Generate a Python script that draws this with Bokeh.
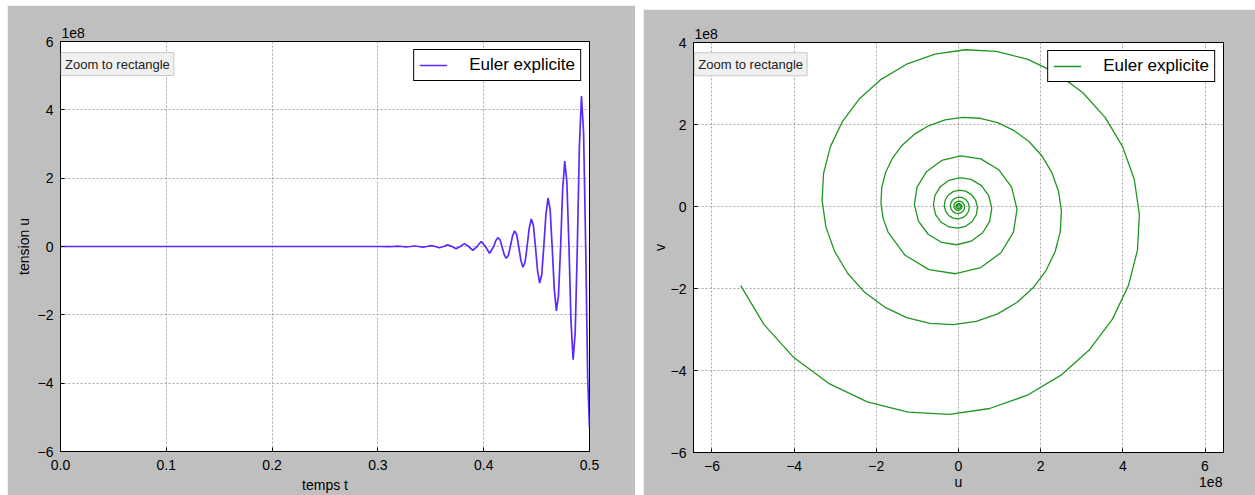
from bokeh.plotting import figure
from bokeh.models import (Range1d, FixedTicker, Label, Legend, Spacer, LinearAxis,
                          CustomJSTickFormatter, ColumnDataSource)
from bokeh.layouts import row, column
from bokeh.embed import file_html
from bokeh.resources import INLINE

# ---------------- data (values in units of 1e8) ----------------
# Left panel: tension u versus temps t (Euler explicite)
time_t = [0.0, 0.300, 0.3107, 0.3147, 0.3186, 0.3226, 0.3265, 0.3305, 0.3344, 0.3384,
          0.3423, 0.3463, 0.3502, 0.3542, 0.3581, 0.3621, 0.3660, 0.3700, 0.3739, 0.3779,
          0.3818, 0.3858, 0.3897, 0.3937, 0.3976, 0.4016, 0.4055, 0.4095,
          0.4114, 0.4134, 0.4154, 0.4173, 0.4193, 0.4213, 0.4233, 0.4252, 0.4272, 0.4292,
          0.4312, 0.4331, 0.4351, 0.4371, 0.4391, 0.4410, 0.4430, 0.4450, 0.4470, 0.4489,
          0.4509, 0.4529, 0.4549, 0.4568, 0.4588, 0.4608, 0.4628, 0.4647, 0.4667, 0.4687,
          0.4707, 0.4727, 0.4746, 0.4766, 0.4786, 0.4806, 0.4825, 0.4845, 0.4865, 0.4885,
          0.4904, 0.4924, 0.4944, 0.4964, 0.4983, 0.5000]
tension_u = [0.0, 0.0, -0.006, 0.0, 0.009, 0.0, -0.012, 0.0, 0.015, 0.0,
             -0.020, 0.0, 0.027, 0.0, -0.036, 0.0, 0.048, 0.0, -0.063, 0.0,
             0.084, 0.0, -0.111, 0.0, 0.148, 0.0, -0.196, 0.0,
             0.171, 0.260, 0.198, 0.0, -0.227, -0.345, -0.262, 0.0, 0.302, 0.458,
             0.348, 0.0, -0.400, -0.607, -0.461, 0.0, 0.531, 0.806, 0.612, 0.0,
             -0.704, -1.069, -0.812, 0.0, 0.935, 1.419, 1.077, 0.0, -1.240, -1.883,
             -1.429, 0.0, 1.646, 2.499, 1.896, 0.0, -2.184, -3.316, -2.516, 0.0,
             2.899, 4.400, 3.339, 0.0, -3.847, -5.300]

# Right panel: phase portrait (u, v), from the centre outwards
phase_u = [0.0, -0.033, -0.034, -0.014, 0.018, 0.044, 0.045, 0.018, -0.024,
           -0.058, -0.060, -0.024, 0.032, 0.077, 0.080, 0.032, -0.043,
           -0.102, -0.112, -0.106, -0.082, -0.043, 0.006, 0.057, 0.102, 0.135, 0.149,
           0.140, 0.108, 0.057, -0.007, -0.075, -0.136,
           -0.179, -0.198, -0.186, -0.143, -0.075, 0.010, 0.100, 0.180, 0.238, 0.262,
           0.246, 0.190, 0.100, -0.013, -0.132, -0.239,
           -0.315, -0.347, -0.326, -0.252, -0.132, 0.017, 0.175, 0.317, 0.418, 0.461,
           0.433, 0.334, 0.175, -0.023, -0.232, -0.420,
           -0.555, -0.611, -0.574, -0.443, -0.232, 0.031, 0.308, 0.557, 0.735, 0.810,
           0.761, 0.588, 0.308, -0.041, -0.409, -0.739,
           -0.975, -1.074, -1.009, -0.779, -0.409, 0.054, 0.542, 0.979, 1.293, 1.424,
           1.338, 1.033, 0.542, -0.071, -0.718, -1.299,
           -1.715, -1.836, -1.888, -1.869, -1.775, -1.607, -1.370, -1.071, -0.718, -0.325,
           0.095, 0.527, 0.953, 1.357, 1.722, 2.032, 2.273, 2.434, 2.504, 2.478,
           2.353, 2.131, 1.817, 1.420, 0.953, 0.431, -0.126, -0.698, -1.263, -1.799,
           -2.284, -2.694,
           -3.015, -3.227, -3.320, -3.285, -3.120, -2.826, -2.409, -1.883, -1.263, -0.572,
           0.167, 0.926, 1.675, 2.385, 3.027, 3.573, 3.997, 4.279, 4.402, 4.356,
           4.136, 3.747, 3.194, 2.496, 1.675, 0.758, -0.221, -1.227, -2.221, -3.163,
           -4.015, -4.737, -5.300]
phase_v = [0.0, -0.012, 0.016, 0.038, 0.039, 0.016, -0.021, -0.050, -0.052,
           -0.021, 0.028, 0.067, 0.069, 0.028, -0.037, -0.089, -0.092,
           -0.037, 0.005, 0.049, 0.089, 0.117, 0.129, 0.122, 0.094, 0.049, -0.006,
           -0.065, -0.118, -0.156, -0.172, -0.161, -0.125,
           -0.065, 0.009, 0.087, 0.156, 0.207, 0.228, 0.214, 0.165, 0.087, -0.011,
           -0.115, -0.207, -0.274, -0.302, -0.284, -0.219,
           -0.115, 0.015, 0.152, 0.275, 0.363, 0.400, 0.376, 0.290, 0.152, -0.020,
           -0.202, -0.365, -0.482, -0.530, -0.499, -0.385,
           -0.202, 0.027, 0.268, 0.484, 0.639, 0.703, 0.661, 0.510, 0.268, -0.035,
           -0.355, -0.641, -0.847, -0.933, -0.877, -0.677,
           -0.355, 0.047, 0.471, 0.850, 1.123, 1.237, 1.162, 0.897, 0.471, -0.062,
           -0.624, -1.128, -1.489, -1.640, -1.541, -1.190,
           -0.624, -0.283, 0.082, 0.457, 0.828, 1.179, 1.495, 1.764, 1.974, 2.114,
           2.175, 2.152, 2.044, 1.850, 1.578, 1.233, 0.828, 0.374, -0.109, -0.606,
           -1.097, -1.563, -1.983, -2.340, -2.618, -2.802, -2.883, -2.853, -2.710, -2.453,
           -2.093, -1.635,
           -1.097, -0.497, 0.145, 0.804, 1.455, 2.072, 2.629, 3.102, 3.471, 3.716,
           3.823, 3.783, 3.593, 3.253, 2.774, 2.168, 1.455, 0.658, -0.192, -1.066,
           -1.929, -2.747, -3.486, -4.114, -4.603, -4.927, -5.069, -5.016, -4.764, -4.313,
           -3.679, -2.875, -1.929]

left_x_ticks = [0.0, 0.1, 0.2, 0.3, 0.4, 0.5]
left_y_ticks = [-6, -4, -2, 0, 2, 4, 6]
right_x_ticks = [-6, -4, -2, 0, 2, 4, 6]
right_y_ticks = [-6, -4, -2, 0, 2, 4]
series_name = "Euler explicite"
scale_text = "1e8"
tooltip_text = "Zoom to rectangle"

# ---------------- styling helpers ----------------
BG = "#bfbfbf"
FONT = "Liberation Sans"
INT_FMT = "return tick < 0 ? '\\u2212' + Math.abs(tick).toFixed(0) : tick.toFixed(0);"


def style(p, xt, yt, xfmt, yfmt, xlabel, ylabel, ylab_standoff):
    p.background_fill_color = "white"
    p.border_fill_color = BG
    p.outline_line_color = "black"
    p.outline_line_width = 1
    p.xaxis.ticker = FixedTicker(ticks=xt)
    p.yaxis.ticker = FixedTicker(ticks=yt)
    p.xaxis.formatter = CustomJSTickFormatter(code=xfmt)
    p.yaxis.formatter = CustomJSTickFormatter(code=yfmt)
    if xlabel:
        p.xaxis.axis_label = xlabel
    p.yaxis.axis_label = ylabel
    for ax in p.xaxis + p.yaxis:
        ax.major_tick_in = 4
        ax.major_tick_out = 0
        ax.minor_tick_line_color = None
        ax.axis_line_color = "black"
        ax.major_tick_line_color = "black"
        ax.major_label_text_font = FONT
        ax.major_label_text_font_size = "14px"
        ax.major_label_text_color = "black"
        ax.axis_label_text_font = FONT
        ax.axis_label_text_font_size = "14px"
        ax.axis_label_text_font_style = "normal"
        ax.axis_label_text_color = "black"
    p.xaxis.major_label_standoff = 8
    p.xaxis.axis_label_standoff = 4
    p.yaxis.major_label_standoff = 7
    p.yaxis.axis_label_standoff = ylab_standoff
    for g in (p.xgrid, p.ygrid):
        g.grid_line_color = "#a6a6a6"
        g.grid_line_dash = "2 2"
        g.grid_line_width = 1
    # "1e8" multiplier above the top-left corner of the frame
    p.title.text = scale_text
    p.title.align = "left"
    p.title.text_font = FONT
    p.title.text_font_size = "14px"
    p.title.text_font_style = "normal"
    p.title.text_color = "black"
    p.title.standoff = 7
    p.title.offset = 1


def add_legend(p, r):
    lg = Legend(items=[(series_name, [r])], location="top_right", margin=8, padding=5,
                glyph_width=28, glyph_height=20, label_standoff=22, spacing=0,
                border_line_color="black", border_line_alpha=1.0, border_line_width=1,
                background_fill_color="white", background_fill_alpha=1.0,
                label_text_font=FONT, label_text_font_size="17px", label_text_color="black")
    p.add_layout(lg)


def zoom_tip(x, y):
    return Label(x=x, y=y, text=tooltip_text, text_align="left", level="overlay",
                 text_baseline="middle", text_font=FONT, text_font_size="13px",
                 text_color="#222222", background_fill_color="#f0f0f0",
                 border_line_color="#c8c8c8", padding=4)


# ---------------- left figure ----------------
p1 = figure(width=628, height=490, x_range=Range1d(0.0, 0.5), y_range=Range1d(-6, 6),
            output_backend="svg", toolbar_location=None,
            min_border_left=53, min_border_right=46, min_border_top=36, min_border_bottom=44)
style(p1, left_x_ticks, left_y_ticks, "return tick.toFixed(1);", INT_FMT,
      "temps t", "tension u", 3)
src1 = ColumnDataSource(dict(t=time_t, u=tension_u))
r1 = p1.line("t", "u", source=src1, line_color="#5a2bff", line_width=1.7)
add_legend(p1, r1)
p1.add_layout(zoom_tip(0.0005, 5.34))

# ---------------- right figure ----------------
p2 = figure(width=612, height=486, x_range=Range1d(-6.45, 6.45), y_range=Range1d(-6, 4),
            output_backend="svg", toolbar_location=None,
            min_border_left=50, min_border_right=32, min_border_top=33, min_border_bottom=43)
style(p2, right_x_ticks, right_y_ticks, INT_FMT, INT_FMT, None, "v", 0)
src2 = ColumnDataSource(dict(u=phase_u, v=phase_v))
r2 = p2.line("u", "v", source=src2, line_color="#1f961f", line_width=1.3)
add_legend(p2, r2)
p2.add_layout(zoom_tip(-6.43, 3.47))

# second row under the x axis: the axis name "u" (centred) and the "1e8" multiplier
# (right-aligned with the frame) sit on one line, as in the original
u_name_pos = 0.0
mult_pos = 6.14
under = LinearAxis(ticker=FixedTicker(ticks=[u_name_pos, mult_pos]),
                   formatter=CustomJSTickFormatter(
                       code="return tick === 0 ? 'u' : '%s';" % scale_text),
                   axis_line_color=None, major_tick_line_color=None,
                   minor_tick_line_color=None, major_label_standoff=0,
                   major_tick_in=0, major_tick_out=0,
                   major_label_text_font=FONT, major_label_text_font_size="14px",
                   major_label_text_color="black")
p2.add_layout(under, "below")

layout = row(Spacer(width=7),
             column(Spacer(height=5), p1),
             Spacer(width=8),
             column(Spacer(height=9), p2))
open("out.html", "w").write(file_html(layout, INLINE))
